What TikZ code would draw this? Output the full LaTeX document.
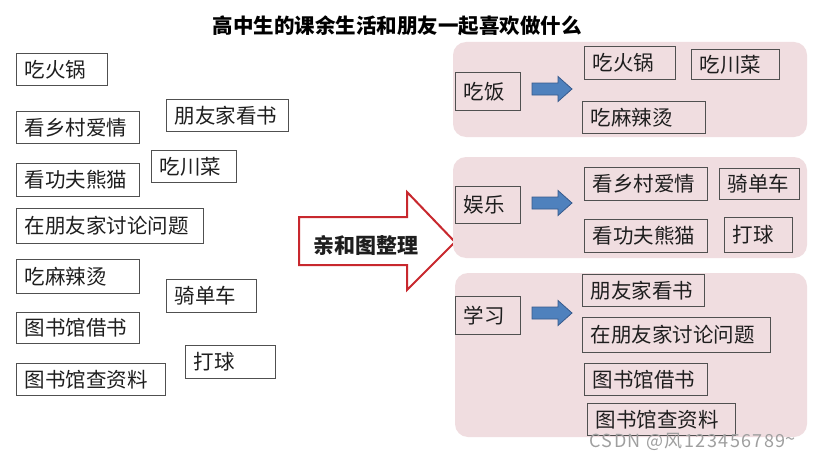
\documentclass[tikz,border=0pt]{standalone}
\usepackage{fontspec}
\setmainfont{Noto Sans CJK SC}
\definecolor{boxline}{RGB}{80,80,80}
\definecolor{txt}{RGB}{30,30,30}
\definecolor{panel}{RGB}{240,221,224}
\definecolor{redline}{RGB}{200,40,46}
\definecolor{bluefill}{RGB}{79,129,189}
\definecolor{blueline}{RGB}{55,90,140}
\tikzset{
  box/.style={draw=boxline, line width=1pt, text=txt, inner xsep=8pt, inner ysep=0pt, align=left,
    font=\fontsize{20.5}{22}\selectfont},
  whitebox/.style={box, fill=white},
  panelbox/.style={fill=panel, rounded corners=13pt, draw=none},
  bigarrow/.style={draw=redline, line width=2pt, fill=white, line join=miter},
  blarrow/.pic={\draw[fill=bluefill, draw=blueline, line width=0.8pt]
      (0,-6)--(26,-6)--(26,-12.5)--(40,0)--(26,12.5)--(26,6)--(0,6)--cycle;}
}
\newcommand\bx[7][box]{%
  \pgfmathsetmacro\bw{#5-#3}\pgfmathsetmacro\bh{#6-#4}\pgfmathsetmacro\tw{#5-#3-16}%
  \node[#1, anchor=north west, minimum width=\bw pt, minimum height=\bh pt, text width=\tw pt] (#2) at (#3,#4) {#7};}
\begin{document}
\begin{tikzpicture}[x=1pt,y=-1pt]
\useasboundingbox[fill=white] (0,0) rectangle (819,460);
% title
\node[font=\fontsize{20.5}{22}\selectfont\bfseries, text=black] (title) at (397,26) {高中生的课余生活和朋友一起喜欢做什么};
% left boxes
\bx[whitebox]{l1}{16}{53}{107}{85}{吃火锅}
\bx[whitebox]{l2}{16}{111}{139}{143}{看乡村爱情}
\bx[whitebox]{l3}{166}{99}{288}{131}{朋友家看书}
\bx[whitebox]{l4}{16}{163}{139}{196}{看功夫熊猫}
\bx[whitebox]{l5}{151}{150}{236}{182}{吃川菜}
\bx[whitebox]{l6}{16}{208}{203}{243}{在朋友家讨论问题}
\bx[whitebox]{l7}{16}{259}{139}{293}{吃麻辣烫}
\bx[whitebox]{l8}{166}{279}{256}{312}{骑单车}
\bx[whitebox]{l9}{16}{312}{139}{343}{图书馆借书}
\bx[whitebox]{l10}{185}{345}{275}{378}{打球}
\bx[whitebox]{l11}{16}{363}{165}{395}{图书馆查资料}
% big red arrow
\draw[bigarrow] (299,217)--(407,217)--(407,192)--(455,242)--(407,290)--(407,265)--(299,265)--cycle;
\node[font=\fontsize{21}{22}\selectfont\bfseries, text=txt] (zl) at (366,245) {亲和图整理};
% panels
\fill[panelbox] (453,42) rectangle (807,137);
\fill[panelbox] (453,157) rectangle (807,258);
\fill[panelbox] (455,273) rectangle (807,437);
% panel 1
\bx{c1}{455}{72}{520}{110}{吃饭}
\pic at (532,89) {blarrow};
\bx{c11}{584}{46}{675}{79}{吃火锅}
\bx{c12}{691}{49}{779}{79}{吃川菜}
\bx{c13}{582}{101}{705}{133}{吃麻辣烫}
% panel 2
\bx{c2}{455}{186}{520}{223}{娱乐}
\pic at (532,203) {blarrow};
\bx{c21}{584}{167}{707}{200}{看乡村爱情}
\bx{c22}{719}{168}{799}{199}{骑单车}
\bx{c23}{584}{219}{707}{252}{看功夫熊猫}
\bx{c24}{724}{217}{792}{252}{打球}
% panel 3
\bx{c3}{455}{296}{520}{334}{学习}
\pic at (532,313) {blarrow};
\bx{c31}{582}{274}{704}{306}{朋友家看书}
\bx{c32}{582}{317}{770}{352}{在朋友家讨论问题}
\bx{c33}{584}{363}{707}{395}{图书馆借书}
\bx{c34}{587}{403}{735}{435}{图书馆查资料}
% watermark
\node[font=\fontsize{18}{20}\selectfont\addfontfeatures{LetterSpace=8}, text=gray!75, anchor=west] (wm) at (586,442) {CSDN @风123456789\raisebox{0.2ex}{\textasciitilde}};
\end{tikzpicture}
\end{document}
